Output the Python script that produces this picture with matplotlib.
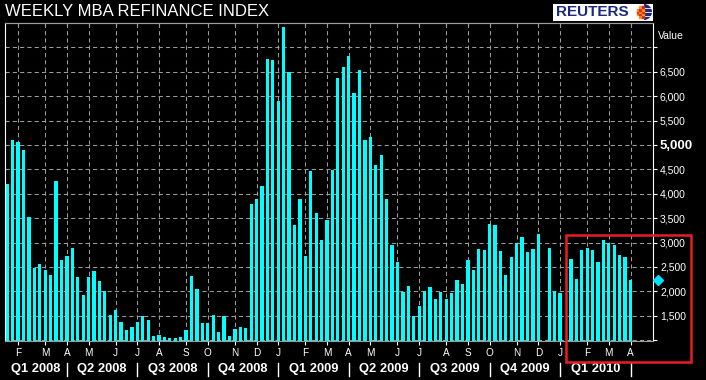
import numpy as np
import pandas as pd
import matplotlib
matplotlib.use('Agg')
import matplotlib.pyplot as plt
from matplotlib import transforms, font_manager
from matplotlib.patches import Rectangle, Wedge

W, H = 706, 380
font0 = 'Liberation Sans'
cyan = '#00ffff'
grey = '#9c9c9c'

# weekly MBA refinance index, weeks ending Friday from 18 Jan 2008
first_week = '2008-01-18'
refi = [4190, 5110, 5060, 4900, 3530, 2470, 2565, 2445, 2340, 4265,
        2635, 2730, 2880, 2290, 1920, 2290, 2420, 2215, 2010, 1510,
        1625, 1375, 1215, 1260, 1375, 1490, 1405, 1080, 1110, 1070,
        1040, 1040, 1055, 1215, 2305, 2040, 1345, 1345, 1510, 1160,
        1490, 1080, 1235, 1270, 1250, 3795, 3890, 4165, 6760, 6740,
        5905, 7420, 6500, 3365, 3890, 2725, 4465, 3610, 3050, 3465,
        4485, 6375, 6595, 6830, 6070, 6535, 5105, 5170, 4595, 4800,
        3900, 2950, 2600, 1985, 2115, 1495, 1705, 2010, 2095, 1840,
        1990, 1840, 1965, 2240, 2150, 2650, 2445, 2875, 2850, 3380,
        3360, 2820, 2340, 2695, 2995, 3120, 2810, 2875, 3175, np.nan,
        2890, 2010, 1970, np.nan, 2670, 2260, 2850, 2890, 2850, 2605,
        3055, 2985, 2950, 2750, 2710, 2235]
yticks = [1000, 1500, 2000, 2500, 3000, 3500, 4000, 4500, 5000, 5500,
          6000, 6500, 7000]
unlabelled = [1000, 7000]

narrow = 'Liberation Sans Narrow' in {f.name for f in font_manager.fontManager.ttflist}


def px(x, y):
    # pixel position (from top left) -> figure fraction
    return x / W, 1 - y / H


def plot_refi():

    vals = np.array(refi, dtype=float)
    dates = pd.date_range(first_week, periods=len(vals), freq='W-FRI')
    idx = np.arange(len(vals))

    # first week of every month
    new_month = dates.month[1:] != dates.month[:-1]
    mt = idx[1:][new_month]
    mlab = [d.strftime('%b')[0] for d in dates[mt]]

    fig = plt.figure(figsize=(W / 100, H / 100), dpi=100, facecolor='black')
    x0, y0 = px(5, 341)
    ax = fig.add_axes([x0, y0, 648 / W, 318 / H], facecolor='black')

    ax.bar(idx, vals, width=0.6, color=cyan, zorder=2)
    ax.set_xlim(-0.42, 119.15)
    ax.set_ylim(982, 7500)

    ax.set_axisbelow(True)
    ax.grid(True, color=grey, linestyle=(0, (4, 3)), linewidth=0.75)

    ax.set_xticks(mt)
    ax.set_xticklabels(mlab, color='white', fontsize=7.2, family=font0)
    ax.tick_params(axis='x', colors='white', length=3, width=0.8, pad=2)

    ax.yaxis.tick_right()
    ax.set_yticks(yticks)
    ylab = ['' if v in unlabelled else f'{v:,}' for v in yticks]
    ax.set_yticklabels(ylab, color='white', fontsize=7.5, family=font0)
    ax.tick_params(axis='y', colors='white', length=3, width=0.8, pad=2)
    for t, v in zip(ax.get_yticklabels(), yticks):
        if v == 5000:
            t.set_fontweight('bold')
            t.set_fontsize(9.5)

    top = ax.secondary_xaxis('top')
    top.set_xticks(mt)
    top.set_xticklabels([])
    top.tick_params(direction='in', length=3, color=grey)
    top.spines['top'].set_color(grey)

    for s in ['left', 'right']:
        ax.spines[s].set_color('white')
    for s in ['top', 'bottom']:
        ax.spines[s].set_color(grey)
    for s in ax.spines.values():
        s.set_linewidth(0.8)

    # last value marker
    ax.plot(120.1, vals[-1], 'D', color='#00e0ff', ms=5.5, clip_on=False, zorder=5)

    ax.text(1.008, 0.96, 'Value', transform=ax.transAxes, color='white',
            fontsize=7.5, family=font0, va='center', ha='left')

    # quarter labels and separators
    trans = transforms.blended_transform_factory(ax.transData, fig.transFigure)
    qstart = [i for i in mt if dates[i].month in (1, 4, 7, 10)]
    edges = [-0.42] + qstart
    qfam = ['Liberation Sans Narrow', font0] if narrow else [font0]
    qsize = 10.5 if narrow else 9.3
    for a, b in zip(edges[:-1], edges[1:]):
        d = dates[max(int(np.ceil(a)), 0)]
        ax.text((a + b) / 2, px(0, 369)[1], f'Q{d.quarter} {d.year}', transform=trans,
                color='white', fontsize=qsize, fontweight='bold', family=qfam,
                ha='center', va='center')
    for q in qstart:
        ax.plot([q, q], [px(0, 363)[1], px(0, 376)[1]], transform=trans,
                color='white', lw=1, clip_on=False)

    # title
    fig.text(*px(5, 11), 'WEEKLY MBA REFINANCE INDEX', color='white', fontsize=12,
             family=font0, va='center', ha='left')

    # logo box
    lx, ly = px(553, 21)
    fig.add_artist(Rectangle((lx, ly), 100 / W, 17 / H, transform=fig.transFigure,
                             facecolor='white', edgecolor='none'))
    fig.text(*px(556, 12.5), 'REUTERS', color='#1b2a7c', fontsize=11,
             fontweight='bold', family=font0, va='center', ha='left')
    gx, gy = px(636, 20)
    gax = fig.add_axes([gx, gy, 16 / W, 16 / H])
    gax.set_zorder(5)
    gax.patch.set_alpha(0)
    gax.set_xlim(-1, 1)
    gax.set_ylim(-1, 1)
    gax.axis('off')
    gax.add_patch(Wedge((0, 0), 1, -90, 90, facecolor='#1b2a7c'))
    for yy in [-0.5, 0, 0.5]:
        gax.plot([0.05, np.sqrt(1 - yy ** 2)], [yy, yy], color='white', lw=0.6)
    for xx in [-0.75, -0.45, -0.15]:
        for yy in [-0.6, -0.3, 0, 0.3, 0.6]:
            if xx ** 2 + yy ** 2 < 0.9:
                c = '#f7941d' if (xx + yy) % 0.6 < 0.3 else '#e2231a'
                gax.plot(xx, yy, 's', color=c, ms=1.6)

    # highlight box
    rx, ry = px(565.5, 361.5)
    fig.add_artist(Rectangle((rx, ry), 125 / W, 127 / H, transform=fig.transFigure,
                             facecolor='none', edgecolor='#ed1c24', lw=1.8))

    fig.savefig('out.png', dpi=100, facecolor='black')


if __name__ == '__main__':
    plot_refi()
